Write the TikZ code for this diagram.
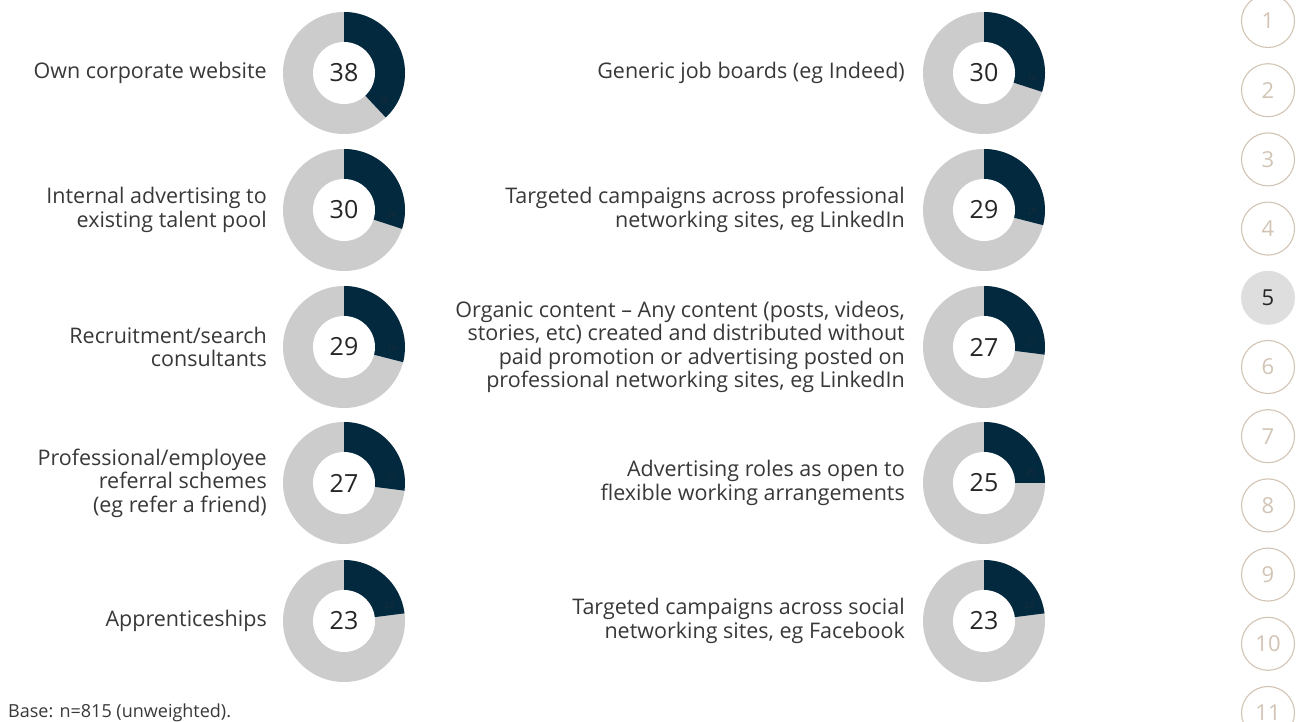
\documentclass[tikz,border=0pt]{standalone}
\usepackage{fontspec}
\setmainfont{Open Sans}
\usetikzlibrary{calc}
\definecolor{navy}{HTML}{03293F}
\definecolor{ringgray}{HTML}{CCCCCC}
\definecolor{labelgray}{HTML}{383838}
\definecolor{tan}{HTML}{D2C4B4}
\definecolor{pagegray}{HTML}{DEDEDE}
\definecolor{tinylab}{HTML}{1B2B36}
\tikzset{
  label text/.style={anchor=east, align=right, text=labelgray, font=\fontsize{21.5}{23.5}\selectfont, inner sep=0pt},
  value text/.style={text=black!85, font=\fontsize{25}{28}\selectfont, inner sep=0pt},
  tiny value/.style={text=tinylab, font=\fontsize{8}{9}\selectfont, inner sep=0pt},
  page num/.style={circle, draw=tan, line width=1.1pt, minimum size=53pt, inner sep=0pt, text=tan, font=\fontsize{22}{24}\selectfont},
  page here/.style={circle, fill=pagegray, minimum size=54pt, inner sep=0pt, text=black!85, font=\fontsize{22}{24}\selectfont}
}
\begin{document}
\begin{tikzpicture}[x=1pt, y=1pt]
      \useasboundingbox (0,0) rectangle (1305,722);
      \clip (0,0) rectangle (1305,722);

      % Left column of rings
      \fill[ringgray] (344,649) circle (61pt);
      \fill[navy] (344,649) -- (344,710) arc[start angle=90, end angle=-46.8, radius=61pt] -- cycle;
      \fill[white] (344,649) circle (31pt);
      \node[value text] (ownsite) at (344,649) {38};
      \node[tiny value] at ($(344,649)+(-34.8:48pt)$) {38};

      \fill[ringgray] (344,512) circle (61pt);
      \fill[navy] (344,512) -- (344,573) arc[start angle=90, end angle=-18, radius=61pt] -- cycle;
      \fill[white] (344,512) circle (31pt);
      \node[value text] (internal) at (344,512) {30};
      \node[tiny value] at ($(344,512)+(-6:48pt)$) {30};

      \fill[ringgray] (344,375) circle (61pt);
      \fill[navy] (344,375) -- (344,436) arc[start angle=90, end angle=-14.4, radius=61pt] -- cycle;
      \fill[white] (344,375) circle (31pt);
      \node[value text] (consult) at (344,375) {29};
      \node[tiny value] at ($(344,375)+(-2.4:48pt)$) {29};

      \fill[ringgray] (344,239) circle (61pt);
      \fill[navy] (344,239) -- (344,300) arc[start angle=90, end angle=-7.2, radius=61pt] -- cycle;
      \fill[white] (344,239) circle (31pt);
      \node[value text] (referral) at (344,239) {27};
      \node[tiny value] at ($(344,239)+(4.8:48pt)$) {27};

      \fill[ringgray] (344,101) circle (61pt);
      \fill[navy] (344,101) -- (344,162) arc[start angle=90, end angle=7.2, radius=61pt] -- cycle;
      \fill[white] (344,101) circle (31pt);
      \node[value text] (apprent) at (344,101) {23};
      \node[tiny value] at ($(344,101)+(19.2:48pt)$) {23};

      % Right column of rings
      \fill[ringgray] (984,649) circle (61pt);
      \fill[navy] (984,649) -- (984,710) arc[start angle=90, end angle=-18, radius=61pt] -- cycle;
      \fill[white] (984,649) circle (31pt);
      \node[value text] (jobboard) at (984,649) {30};
      \node[tiny value] at ($(984,649)+(-6:48pt)$) {30};

      \fill[ringgray] (984,512) circle (61pt);
      \fill[navy] (984,512) -- (984,573) arc[start angle=90, end angle=-14.4, radius=61pt] -- cycle;
      \fill[white] (984,512) circle (31pt);
      \node[value text] (linkedin) at (984,512) {29};
      \node[tiny value] at ($(984,512)+(-2.4:48pt)$) {29};

      \fill[ringgray] (984,375) circle (61pt);
      \fill[navy] (984,375) -- (984,436) arc[start angle=90, end angle=-7.2, radius=61pt] -- cycle;
      \fill[white] (984,375) circle (31pt);
      \node[value text] (organic) at (984,375) {27};
      \node[tiny value] at ($(984,375)+(4.8:48pt)$) {27};

      \fill[ringgray] (984,239) circle (61pt);
      \fill[navy] (984,239) -- (984,300) arc[start angle=90, end angle=0, radius=61pt] -- cycle;
      \fill[white] (984,239) circle (31pt);
      \node[value text] (flexible) at (984,239) {25};
      \node[tiny value] at ($(984,239)+(12:48pt)$) {25};

      \fill[ringgray] (984,101) circle (61pt);
      \fill[navy] (984,101) -- (984,162) arc[start angle=90, end angle=7.2, radius=61pt] -- cycle;
      \fill[white] (984,101) circle (31pt);
      \node[value text] (facebook) at (984,101) {23};
      \node[tiny value] at ($(984,101)+(19.2:48pt)$) {23};

      % Labels
      \node[label text] (ownsite label) at (267,649) {Own corporate website};
      \node[label text] (internal label) at (267,512) {Internal advertising to\\existing talent pool};
      \node[label text] (consult label) at (267,375) {Recruitment/search\\consultants};
      \node[label text] (referral label) at (267,239) {Professional/employee\\referral schemes\\(eg refer a friend)};
      \node[label text] (apprent label) at (267,101) {Apprenticeships};

      \node[label text] (jobboard label) at (905,649) {Generic job boards (eg Indeed)};
      \node[label text] (linkedin label) at (905,512) {Targeted campaigns across professional\\networking sites, eg LinkedIn};
      \node[label text] (organic label) at (905,375) {Organic content -- Any content (posts, videos,\\stories, etc) created and distributed without\\paid promotion or advertising posted on\\professional networking sites, eg LinkedIn};
      \node[label text] (flexible label) at (905,239) {Advertising roles as open to\\flexible working arrangements};
      \node[label text] (facebook label) at (905,101) {Targeted campaigns across social\\networking sites, eg Facebook};

      % Base note
      \node[anchor=base west, inner sep=0pt, text=labelgray, font=\fontsize{18}{19}\selectfont] (base) at (8,5) {Base: n=815 (unweighted).};

      % Section numbers
      \node[page num] (p1) at (1268,701) {1};
      \node[page num] (p2) at (1268,631.8) {2};
      \node[page num] (p3) at (1268,562.6) {3};
      \node[page num] (p4) at (1268,493.4) {4};
      \node[page here] (p5) at (1268,424.2) {5};
      \node[page num] (p6) at (1268,355) {6};
      \node[page num] (p7) at (1268,285.8) {7};
      \node[page num] (p8) at (1268,216.6) {8};
      \node[page num] (p9) at (1268,147.4) {9};
      \node[page num] (p10) at (1268,78.2) {10};
      \node[page num] (p11) at (1268,9) {11};
\end{tikzpicture}
\end{document}
